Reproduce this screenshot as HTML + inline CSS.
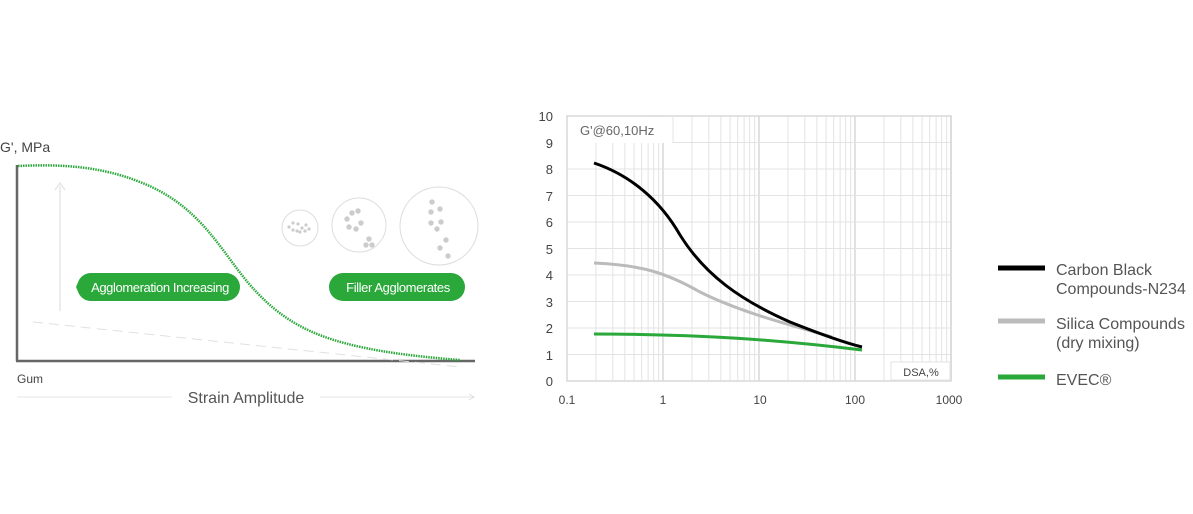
<!DOCTYPE html>
<html><head><meta charset="utf-8"><style>
body{margin:0;background:#fff;width:1193px;height:514px;overflow:hidden}
svg{display:block;font-family:"Liberation Sans",sans-serif}
</style></head><body>
<svg width="1193" height="514" viewBox="0 0 1193 514">
<defs>
<g id="dec" stroke="#e3e3e3" stroke-width="1">
<line x1="28.9" y1="116" x2="28.9" y2="381"/><line x1="45.8" y1="116" x2="45.8" y2="381"/><line x1="57.8" y1="116" x2="57.8" y2="381"/><line x1="67.1" y1="116" x2="67.1" y2="381"/><line x1="74.7" y1="116" x2="74.7" y2="381"/><line x1="81.1" y1="116" x2="81.1" y2="381"/><line x1="86.7" y1="116" x2="86.7" y2="381"/><line x1="91.6" y1="116" x2="91.6" y2="381"/>
<line x1="96" y1="116" x2="96" y2="381" stroke="#d8d8d8" stroke-width="1.5"/>
</g>
</defs>
<!-- LEFT CHART -->
<text x="0" y="152" font-size="14" fill="#444">G', MPa</text>
<line x1="17" y1="165" x2="17" y2="361" stroke="#666" stroke-width="2.5"/>
<line x1="16" y1="361" x2="475" y2="361" stroke="#666" stroke-width="2.5"/>
<line x1="60" y1="311" x2="60" y2="186" stroke="#e6e6e6" stroke-width="1.5"/>
<path d="M55,190 L60,183 L65,190" fill="none" stroke="#e6e6e6" stroke-width="1.5"/>
<line x1="33" y1="322" x2="460" y2="367" stroke="#e0e0e0" stroke-width="1" stroke-dasharray="10,6"/>
<path d="M18,166 C60,164 100,166 140,182 C200,205 220,250 250,285 C290,330 330,350 460,360" fill="none" stroke="#2aa83a" stroke-width="2.5" stroke-dasharray="1.5,1"/>
<g fill="none" stroke="#ddd" stroke-width="1">
<circle cx="300" cy="228" r="18"/><circle cx="359" cy="225" r="27"/><circle cx="439" cy="226" r="39"/>
</g>
<g fill="#ccc">
<circle cx="289" cy="227" r="1.6"/><circle cx="293" cy="223" r="1.6"/><circle cx="298" cy="224" r="1.6"/><circle cx="302" cy="228" r="1.6"/><circle cx="306" cy="225" r="1.6"/><circle cx="309" cy="229" r="1.6"/><circle cx="293" cy="230" r="1.6"/><circle cx="297" cy="231" r="1.6"/><circle cx="305" cy="231" r="1.6"/><circle cx="300" cy="232" r="1.6"/>
<circle cx="347" cy="219" r="2.7"/><circle cx="352" cy="213" r="2.7"/><circle cx="358" cy="211" r="2.7"/><circle cx="361" cy="223" r="2.7"/><circle cx="349" cy="227" r="2.7"/><circle cx="356" cy="229" r="2.7"/><circle cx="369" cy="239" r="2.7"/><circle cx="366" cy="245" r="2.7"/><circle cx="372" cy="245" r="2.7"/>
<circle cx="432" cy="202" r="2.7"/><circle cx="431" cy="212" r="2.7"/><circle cx="440" cy="209" r="2.7"/><circle cx="431" cy="223" r="2.7"/><circle cx="441" cy="222" r="2.7"/><circle cx="437" cy="229" r="2.7"/><circle cx="446" cy="240" r="2.7"/><circle cx="440" cy="248" r="2.7"/><circle cx="448" cy="256" r="2.7"/>
</g>
<path d="M91,273 H226 A14,14 0 0 1 226,301 H91 A14,14 0 0 1 79,294 L76,287 L79,280 A14,14 0 0 1 91,273 Z" fill="#2aa83a"/>
<text x="160" y="292" font-size="13" fill="#fff" text-anchor="middle" letter-spacing="-0.4">Agglomeration Increasing</text>
<rect x="329" y="273" width="136" height="28" rx="14" fill="#2aa83a"/>
<text x="398" y="292" font-size="13" fill="#fff" text-anchor="middle" letter-spacing="-0.4">Filler Agglomerates</text>
<text x="17" y="383" font-size="12" fill="#444">Gum</text>
<line x1="17" y1="397" x2="172" y2="397" stroke="#e6e6e6"/>
<line x1="320" y1="397" x2="474" y2="397" stroke="#e6e6e6"/>
<path d="M469,394 L474,397 L469,400" fill="none" stroke="#ddd"/>
<text x="246" y="403" font-size="16" fill="#555" text-anchor="middle">Strain Amplitude</text>
<!-- RIGHT CHART -->
<use href="#dec" x="567"/><use href="#dec" x="663"/><use href="#dec" x="759"/><use href="#dec" x="855"/>
<g stroke="#e3e3e3" stroke-width="1">
<line x1="567" y1="142.5" x2="951" y2="142.5"/><line x1="567" y1="169" x2="951" y2="169"/><line x1="567" y1="195.5" x2="951" y2="195.5"/><line x1="567" y1="222" x2="951" y2="222"/><line x1="567" y1="248.5" x2="951" y2="248.5"/><line x1="567" y1="275" x2="951" y2="275"/><line x1="567" y1="301.5" x2="951" y2="301.5"/><line x1="567" y1="328" x2="951" y2="328"/><line x1="567" y1="354.5" x2="951" y2="354.5"/>
</g>
<rect x="567" y="116" width="384" height="265" fill="none" stroke="#d8d8d8" stroke-width="1.5"/>
<rect x="568" y="117" width="105" height="26" fill="#fff"/>
<line x1="673" y1="117" x2="673" y2="143" stroke="#e3e3e3"/>
<text x="580" y="135" font-size="13" fill="#666">G'@60,10Hz</text>
<rect x="891" y="362" width="59" height="18" fill="#fff" stroke="#e3e3e3"/>
<text x="921" y="376" font-size="11" fill="#444" text-anchor="middle">DSA,%</text>
<g font-size="13" fill="#444" text-anchor="end">
<text x="553" y="121">10</text><text x="553" y="148">9</text><text x="553" y="174">8</text><text x="553" y="201">7</text><text x="553" y="227">6</text><text x="553" y="254">5</text><text x="553" y="280">4</text><text x="553" y="307">3</text><text x="553" y="333">2</text><text x="553" y="360">1</text><text x="553" y="386">0</text>
</g>
<g font-size="12" fill="#444" text-anchor="middle">
<text x="567" y="404">0.1</text><text x="663" y="404">1</text><text x="760" y="404">10</text><text x="855" y="404">100</text><text x="949" y="404">1000</text>
</g>
<path d="M594,334 C700,334 780,340 862,350" fill="none" stroke="#2aa83a" stroke-width="3"/>
<path d="M594,263 C640,265 665,272 700,292 C740,312 790,325 832,337" fill="none" stroke="#bbb" stroke-width="3"/>
<path d="M594,163 C630,175 660,200 680,235 C705,275 740,300 790,322 C830,338 850,344 862,347" fill="none" stroke="#000" stroke-width="3"/>
<!-- LEGEND -->
<line x1="998" y1="268" x2="1045" y2="268" stroke="#000" stroke-width="5"/>
<line x1="998" y1="321" x2="1045" y2="321" stroke="#bbb" stroke-width="5"/>
<line x1="998" y1="377" x2="1045" y2="377" stroke="#2aa83a" stroke-width="5"/>
<g font-size="16" fill="#555">
<text x="1056" y="275">Carbon Black</text><text x="1056" y="294">Compounds-N234</text>
<text x="1056" y="329">Silica Compounds</text><text x="1056" y="348">(dry mixing)</text>
<text x="1056" y="385">EVEC®</text>
</g>
</svg>
</body></html>
